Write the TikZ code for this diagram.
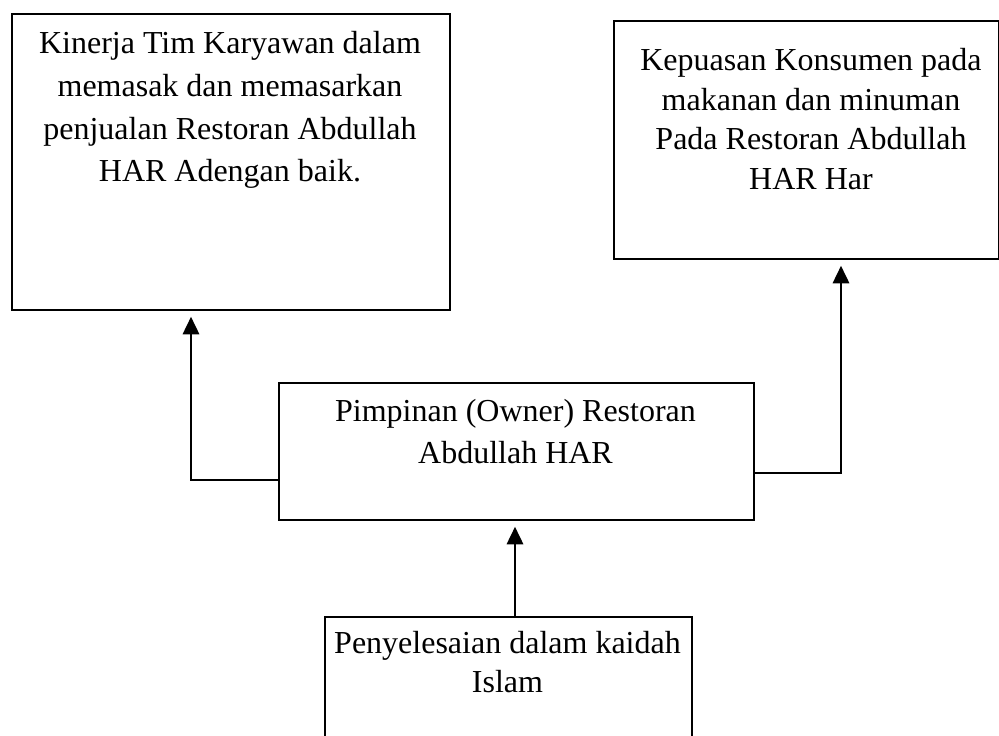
\documentclass[tikz,border=0pt]{standalone}
\usepackage{fontspec}
\setmainfont{Liberation Serif}
\usetikzlibrary{arrows.meta}
\begin{document}
\begin{tikzpicture}[x=0.4pt,y=-0.4pt,
  box/.style={draw=black,line width=0.7pt,rectangle,inner sep=0pt,anchor=north west,fill=none},
  txt/.style={inner sep=0pt,anchor=north,align=center,text=black},
  arr/.style={draw=black,line width=0.95pt,-{Triangle[length=7pt,width=6.5pt]},shorten >=2.4pt}]
\useasboundingbox (0,0) rectangle (999,735);
\clip (0,0) rectangle (999,735);
\fill[white] (0,0) rectangle (999,735);
% boxes
\node[box,minimum width=175.2pt,minimum height=118.4pt] (A) at (11,13) {};
\node[box,minimum width=154pt,minimum height=95.2pt] (B) at (613,20) {};
\node[box,minimum width=190pt,minimum height=54.8pt] (C) at (278,382) {};
\node[box,minimum width=146.8pt,minimum height=65.6pt] (D) at (324,616) {};
% texts
\node[txt,font={\fontsize{12.8}{17.1}\selectfont}] (tA) at (230,31)
  {Kinerja Tim Karyawan dalam\\memasak dan memasarkan\\penjualan Restoran Abdullah\\HAR Adengan baik.};
\node[txt,font={\fontsize{12.8}{15.8}\selectfont}] (tB) at (811,48)
  {Kepuasan Konsumen pada\\makanan dan minuman\\Pada Restoran Abdullah\\HAR Har};
\node[txt,font={\fontsize{12.8}{17}\selectfont}] (tC) at (515.5,398.5)
  {Pimpinan (Owner) Restoran\\Abdullah HAR};
\node[txt,font={\fontsize{12.8}{15.5}\selectfont}] (tD) at (507.5,631)
  {Penyelesaian dalam kaidah\\Islam};
% connector helpers
\coordinate (pl) at (191,480);
\coordinate (pr) at (841,473);
\coordinate (pd) at (515,616);
% connectors
\draw[arr] (C.west |- pl) -- (pl) -- (pl |- A.south);
\draw[arr] (C.east |- pr) -- (pr) -- (pr |- B.south);
\draw[arr] (pd |- D.north) -- (pd |- C.south);
\end{tikzpicture}
\end{document}
